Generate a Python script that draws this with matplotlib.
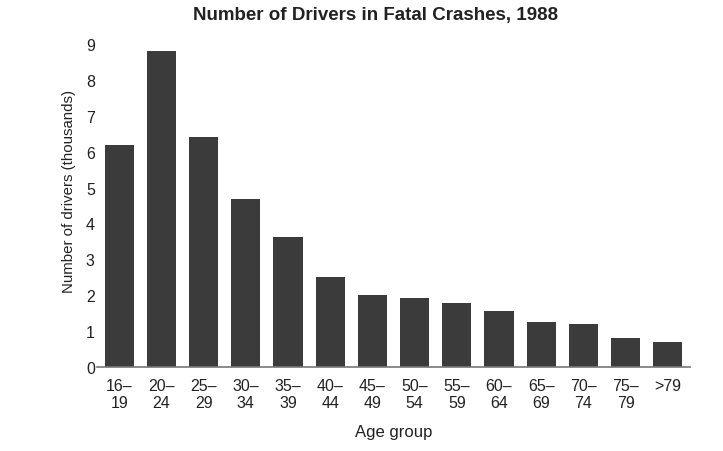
import matplotlib.pyplot as plt
import numpy as np

plt.rcParams['font.family'] = ['Liberation Sans', 'DejaVu Sans']

ageGroups = ['16–\n19', '20–\n24', '25–\n29', '30–\n34', '35–\n39', '40–\n44', '45–\n49',
             '50–\n54', '55–\n59', '60–\n64', '65–\n69', '70–\n74', '75–\n79', '>79']
drivers = [6.19, 8.81, 6.42, 4.67, 3.61, 2.52, 2.01, 1.92, 1.78, 1.55, 1.25, 1.19, 0.82, 0.70]

fig = plt.figure(figsize=(7.23, 4.52), dpi=100)
ax = fig.add_axes([0.134, 0.186, 0.82, 0.722])

x = np.arange(len(ageGroups))
ax.bar(x, drivers, width=0.69, color='#3b3b3b')

ax.set_xlim(-0.53, 13.52)
ax.set_ylim(0, 9.1)
ax.set_yticks(range(10))
ax.set_xticks(x)
ax.set_xticklabels(ageGroups)
ax.tick_params(axis='both', length=0, labelsize=11.5, colors='#222222')
ax.tick_params(axis='x', pad=8)
ax.tick_params(axis='y', pad=1.5)

for s in ['top', 'right', 'left']:
    ax.spines[s].set_visible(False)
ax.spines['bottom'].set_color('#777777')
ax.spines['bottom'].set_linewidth(1.2)

ax.set_xlabel('Age group', fontsize=12, color='#222222', labelpad=10)
ax.set_ylabel('Number of drivers (thousands)', fontsize=10.8, color='#222222')
ax.yaxis.set_label_coords(-0.035, 0.54)

fig.text(0.52, 0.965, 'Number of Drivers in Fatal Crashes, 1988', ha='center', va='center',
         fontsize=13.5, fontweight='bold', color='#222222')

plt.savefig('out.png', dpi=100)
